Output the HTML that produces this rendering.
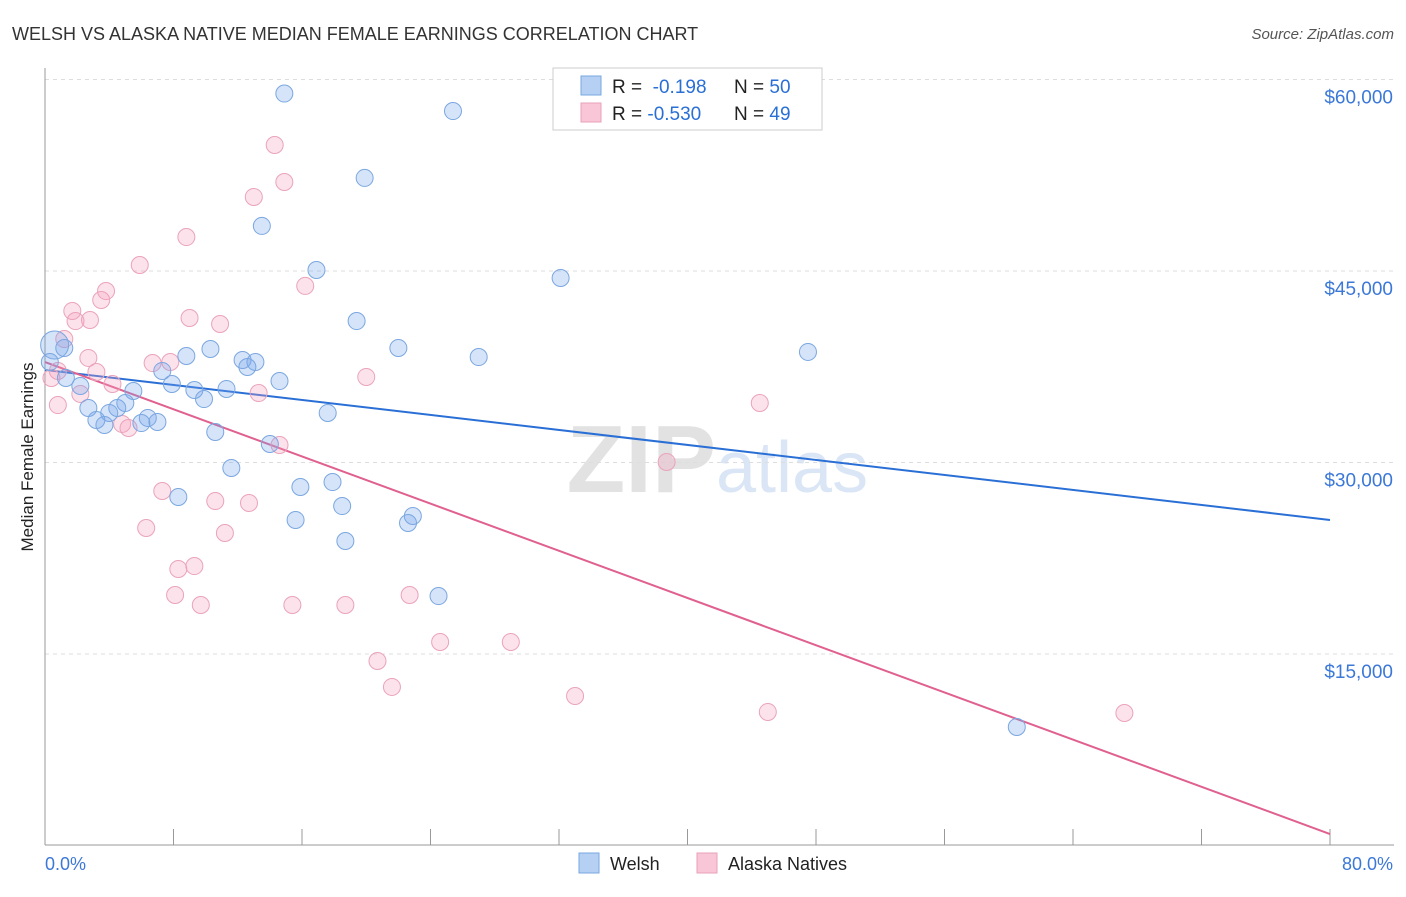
<!DOCTYPE html>
<html><head><meta charset="utf-8"><style>
body{margin:0;background:#fff;font-family:"Liberation Sans",sans-serif}
svg text{font-family:"Liberation Sans",sans-serif}
</style></head><body>
<svg id="chart" width="1406" height="892" viewBox="0 0 1406 892">
<text x="12" y="40" font-size="18" fill="#333">WELSH VS ALASKA NATIVE MEDIAN FEMALE EARNINGS CORRELATION CHART</text>
<text x="1394" y="39" font-size="15" fill="#555" font-style="italic" text-anchor="end">Source: ZipAtlas.com</text>
<text x="716" y="492" font-size="96" fill="#e2e2e2" font-family="Liberation Serif" text-anchor="end" font-weight="bold">ZIP</text>
<text x="716" y="492" font-size="72" fill="#dae6f6">atlas</text>
<g id="grid"></g><g id="axes"></g><g id="lines"></g><g id="points"></g>
<text x="33" y="457" font-size="17" fill="#222" text-anchor="middle" transform="rotate(-90 33 457)">Median Female Earnings</text>
<text x="45" y="870" font-size="18" fill="#3b78d8">0.0%</text>
<text x="1393" y="870" font-size="18" fill="#3b78d8" text-anchor="end">80.0%</text>
<g>
<rect x="553" y="68" width="269" height="62" fill="#fff" stroke="#ccc"/>
<rect x="581" y="76" width="20" height="19" fill="#b5d0f3" stroke="#7aa7e0"/>
<rect x="581" y="103" width="20" height="19" fill="#f8c6d6" stroke="#e9a0b8"/>
<text x="612" y="93" font-size="19" fill="#222">R = <tspan fill="#2a6fd6">&#160;-0.198</tspan><tspan x="734">N = </tspan><tspan fill="#2a6fd6">50</tspan></text>
<text x="612" y="120" font-size="19" fill="#222">R = <tspan fill="#2a6fd6">-0.530</tspan><tspan x="734">N = </tspan><tspan fill="#2a6fd6">49</tspan></text>
</g>
<g>
<rect x="579" y="853" width="20" height="20" fill="#b5d0f3" stroke="#7aa7e0"/>
<text x="610" y="870" font-size="18" fill="#222">Welsh</text>
<rect x="697" y="853" width="20" height="20" fill="#f8c6d6" stroke="#e9a0b8"/>
<text x="728" y="870" font-size="18" fill="#222">Alaska Natives</text>
</g>
</svg>
<script>
const yTicks=[15000,30000,45000,60000];
const yTickLabels=["$15,000","$30,000","$45,000","$60,000"];
const welshX=[14.9,25.4,19.9,13.5,16.9,32.1,19.4,22.0,27.0,47.5,10.3,8.8,12.3,13.1,12.6,7.3,7.9,14.6,11.3,9.3,9.9,5.5,2.2,1.3,1.2,0.6,0.3,5.0,4.5,2.7,4.0,3.2,3.7,6.4,7.0,6.0,17.6,10.6,14.0,11.6,15.9,17.9,8.3,18.5,15.6,22.9,22.6,18.7,24.5,60.5];
const welshY=[58900,57530,52290,48530,45080,44450,41080,38970,38260,38660,38890,38340,38030,37870,37480,37170,36150,36380,35760,35680,34970,35600,35990,36620,38970,39200,37870,34660,34270,34270,33880,33330,32940,33490,33170,33090,33880,32390,31450,29570,28080,28470,27300,26590,25500,25810,25260,23850,19540,9280];
const alaskaX=[14.3,14.9,13.0,8.8,5.9,16.2,3.8,3.5,1.7,2.8,1.9,9.0,10.9,1.2,2.7,6.7,7.8,20.0,0.8,3.2,4.2,2.2,0.8,13.3,44.5,4.8,5.2,14.6,38.7,7.3,10.6,12.7,6.3,11.2,9.3,8.3,8.1,9.7,15.4,18.7,22.7,24.6,29.0,20.7,21.6,33.0,45.0,67.2,0.4];
const alaskaY=[54870,51970,50800,47660,45470,43830,43430,42730,41870,41160,41080,41320,40850,39670,38190,37790,37870,36700,37170,37090,36150,35370,34500,35440,34660,33020,32700,31370,30040,27770,26980,26830,24870,24480,21890,21660,19620,18840,18840,18840,19620,15940,15940,14450,12420,11710,10460,10380,36620];
const welshTrend=[37250,25500];
const alaskaTrend=[37870,900];
const NS="http://www.w3.org/2000/svg";
const xS=v=>45+v/80*1285;
const yS=v=>845.5-v/15000*191.5;
function mk(tag,attrs,parent){const e=document.createElementNS(NS,tag);for(const k in attrs)e.setAttribute(k,attrs[k]);document.getElementById(parent).appendChild(e);return e;}
yTicks.forEach((t,i)=>{
 const g=mk('line',{x1:45,x2:1394,y1:yS(t),y2:yS(t),stroke:'#ddd','stroke-dasharray':'4,4'},'grid');
 
 
 const l=mk('text',{x:1393,y:yS(t)+24,'font-size':19,fill:'#3b78d8','text-anchor':'end'},'grid');
 l.textContent=yTickLabels[i];
 
 
});
const xa=mk('line',{x1:45,x2:1394,y1:845,y2:845,stroke:'#999'},'axes');


const ya=mk('line',{x1:45,x2:45,y1:68,y2:845,stroke:'#999'},'axes');


for(let i=0;i<=10;i++){
 const tk=mk('line',{x1:xS(i*8),x2:xS(i*8),y1:829,y2:845,stroke:'#999'},'axes');
 
 
}
const wl=mk('line',{x1:xS(0),y1:yS(welshTrend[0]),x2:xS(80),y2:yS(welshTrend[1]),stroke:'#2a6fd6','stroke-width':2},'lines');


const al=mk('line',{x1:xS(0),y1:yS(alaskaTrend[0]),x2:xS(80),y2:yS(alaskaTrend[1]),stroke:'#e0608f','stroke-width':2},'lines');


alaskaX.forEach((x,i)=>{
 const c=mk('circle',{cx:xS(x),cy:yS(alaskaY[i]),r:8.5,fill:'rgba(244,160,190,0.3)',stroke:'#eaa3bb','stroke-width':1},'points');
 
 
});
welshX.forEach((x,i)=>{
 const c=mk('circle',{cx:xS(x),cy:yS(welshY[i]),r:i==25?14:8.5,fill:'rgba(120,165,235,0.3)',stroke:'#7aa7e0','stroke-width':1},'points');
 
 
});
</script>
</body></html>
